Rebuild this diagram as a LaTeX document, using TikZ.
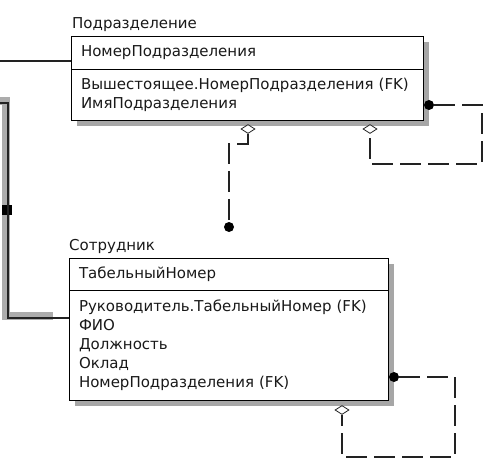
\documentclass[tikz,border=0pt]{standalone}
\usepackage{fontspec}
\setmainfont{DejaVu Sans}
\usepackage{tikz}
\usetikzlibrary{shapes.geometric, positioning, shadows}
\definecolor{erline}{HTML}{222222}
\tikzstyle{entbox} = [rectangle, draw=black, fill=white, line width=0.8pt, outer sep=0pt, inner xsep=10pt, inner ysep=0pt, align=left, drop shadow={shadow xshift=6pt, shadow yshift=-6pt, fill=gray!70, opacity=1}]
\tikzstyle{enttitle} = [inner sep=0pt]
\tikzstyle{fkdot} = [circle, fill=black, inner sep=0pt, minimum size=10pt]
\tikzstyle{fkdia} = [diamond, draw=erline, fill=white, inner sep=0pt, minimum width=14pt, minimum height=9pt, line width=0.8pt]
\tikzstyle{relline} = [draw=erline, line width=1.2pt, dash pattern=on 21pt off 7pt]
\tikzstyle{plainline} = [draw=erline, line width=1.1pt]
\tikzstyle{hilite} = [draw=gray!65, line width=8pt]

\begin{document}
\begin{tikzpicture}[x=1pt, y=-1pt, node distance=0pt, font=\fontsize{15}{19}\selectfont, text=black!90]
   \useasboundingbox (0,0) rectangle (503,468);
   \node (podrKey) [entbox, anchor=north west, text width=332pt, minimum height=33pt] at (71,36) {НомерПодразделения};
   \node (podrAttr) [entbox, below=of podrKey, text width=332pt, minimum height=51pt] {Вышестоящее.НомерПодразделения (FK)\\ИмяПодразделения};
   \node (podrTitle) [enttitle, above right=4pt and 1pt of podrKey.north west] {Подразделение};
   \node (empKey) [entbox, anchor=north west, text width=299pt, minimum height=32pt] at (69,258) {ТабельныйНомер};
   \node (empAttr) [entbox, below=of empKey, text width=299pt, minimum height=110pt] {Руководитель.ТабельныйНомер (FK)\\ФИО\\Должность\\Оклад\\НомерПодразделения (FK)};
   \node (empTitle) [enttitle, above right=4pt and 0pt of empKey.north west] {Сотрудник};
   \node (podrDot) [fkdot] at (429,105) {};
   \node (podrSelfDia) [fkdia] at (370,129) {};
   \node (podrEmpDia) [fkdia] at (248,129) {};
   \node (empDot) [fkdot] at (229,227) {};
   \node (empSelfDot) [fkdot] at (394,377) {};
   \node (empSelfDia) [fkdia] at (342,410) {};
   \coordinate (podrLoop) at (482,164);
   \coordinate (podrBend) at (248,144);
   \coordinate (empLoop) at (455,457);
   \coordinate (deptIn) at (0,61);
   \coordinate (mgrIn) at (0,103);
   \coordinate (mgrBend) at (8,318);
   \draw [relline] (podrDot) -| (podrLoop) -| (podrSelfDia);
   \draw [relline] (podrEmpDia) -- (podrBend) -| (empDot);
   \draw [relline] (empSelfDot) -| (empLoop) -| (empSelfDia);
   \draw [plainline] (deptIn) -- (deptIn -| podrKey.west);
   \draw [hilite] ([shift={(-2,-2)}]mgrIn) -| ([shift={(-2,-2)}]mgrBend) -- ++(47,0);
   \draw [plainline] (mgrIn) -| (mgrBend) -- (mgrBend -| empAttr.west);
   \fill (2,205) rectangle (7,215);
   \fill (8.5,205) rectangle (12,215);
\end{tikzpicture}
\end{document}
